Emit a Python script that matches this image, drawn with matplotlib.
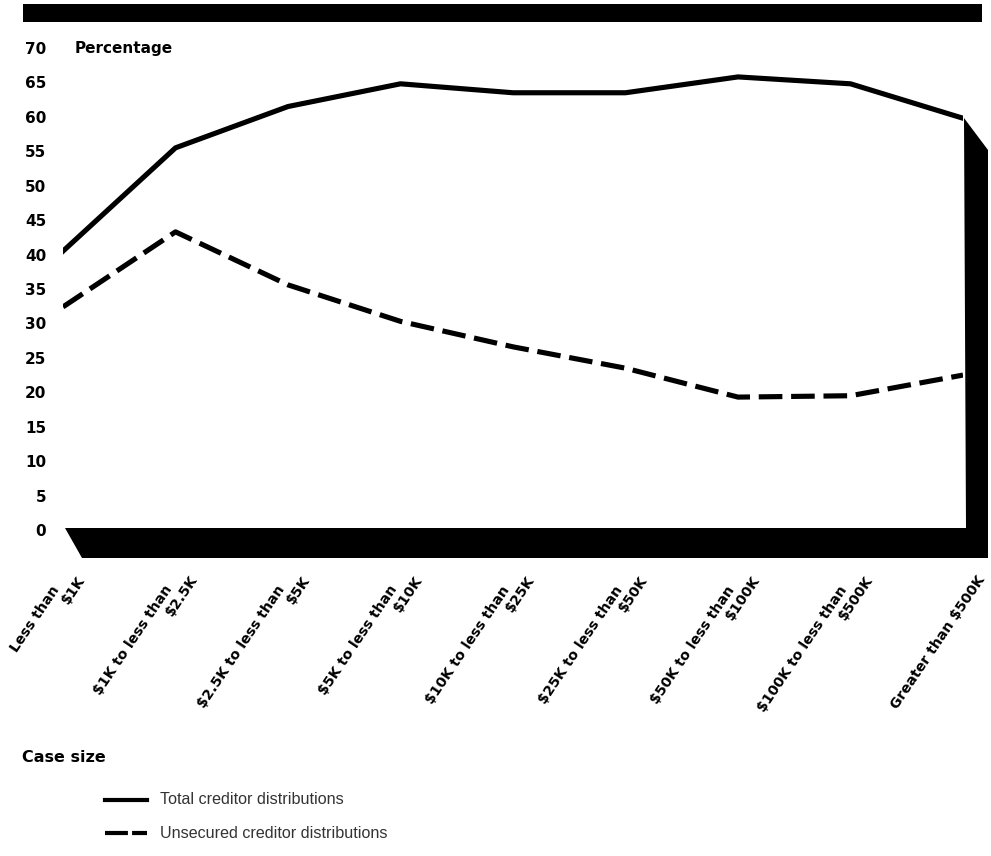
import matplotlib
matplotlib.use("Agg")
import matplotlib.pyplot as plt
from matplotlib.patches import Polygon, Rectangle
from matplotlib.lines import Line2D

plt.rcParams['font.family'] = ['Liberation Sans', 'DejaVu Sans']
BOLD = ['DejaVu Sans']

categories = ["Less than\n$1K", "$1K to less than\n$2.5K", "$2.5K to less than\n$5K",
              "$5K to less than\n$10K", "$10K to less than\n$25K", "$25K to less than\n$50K",
              "$50K to less than\n$100K", "$100K to less than\n$500K", "Greater than $500K"]
total = [40.5, 55.5, 61.5, 64.8, 63.5, 63.5, 65.8, 64.8, 59.8]
unsecured = [32.4, 43.3, 35.6, 30.3, 26.6, 23.5, 19.3, 19.5, 22.5]
yticks = list(range(0, 75, 5))
series_labels = ["Total creditor distributions", "Unsecured creditor distributions"]

W, H = 991, 856
fig = plt.figure(figsize=(W / 100, H / 100), dpi=100)

def fx(px):
    return px / W

def fy(py):
    return 1 - py / H

# axes: x 0..8 -> px 63..963 ; y 0..70 -> px 530..48
ax = fig.add_axes([fx(63), fy(530), (963 - 63) / W, (530 - 48) / H])
ax.set_xlim(0, len(categories) - 1)
ax.set_ylim(0, 70)
for s in ax.spines.values():
    s.set_visible(False)

xs = list(range(len(categories)))
ax.plot(xs, total, color='black', lw=3.7, solid_joinstyle='round', zorder=3)
ax.plot(xs, unsecured, color='black', lw=3.7, dashes=(4.6, 1.7),
        dash_capstyle='butt', zorder=3)

ax.set_yticks(yticks)
ax.set_yticklabels([str(v) for v in yticks], fontweight='bold', fontsize=11,
                   family=BOLD)
ax.tick_params(axis='y', length=0, pad=12)
ax.set_xticks([])

# x category labels: last line anchored at the tick, first line offset back
ROT = 56
for i, lab in enumerate(categories):
    parts = lab.split('\n')
    offsets = [(13.7, -33.8)] if len(parts) == 1 else [(-4.3, -41.0), (13.7, -33.8)]
    for part, off in zip(parts, offsets):
        ax.annotate(part, xy=(i, 0), xycoords=('data', 'axes fraction'),
                    xytext=off, textcoords='offset points',
                    ha='right', va='center', rotation=ROT, rotation_mode='anchor',
                    fontweight='bold', fontsize=10.2, family=BOLD,
                    annotation_clip=False)

# decorations: top bar, floor and right wall
fig.add_artist(Rectangle((fx(23), fy(22)), fx(982) - fx(23), fy(4) - fy(22),
                         transform=fig.transFigure, color='black', lw=0))
floor_pts = [(65, 528), (966, 528), (964, 118), (988, 150), (988, 558), (82, 558)]
fig.add_artist(Polygon([(fx(x), fy(y)) for x, y in floor_pts], closed=True,
                       transform=fig.transFigure, color='black', lw=0))

fig.text(fx(75), fy(48), "Percentage", fontweight='bold', fontsize=11,
         family=BOLD, ha='left', va='center')
fig.text(fx(22), fy(758), "Case size", fontweight='bold', fontsize=11.5,
         family=BOLD, ha='left', va='center')

# legend
fig.add_artist(Line2D([fx(105), fx(147)], [fy(800), fy(800)], color='black', lw=3,
                      transform=fig.transFigure))
fig.add_artist(Line2D([fx(105), fx(147)], [fy(833), fy(833)], color='black', lw=3,
                      dashes=(5.5, 1.0), transform=fig.transFigure))
fig.text(fx(160), fy(800), series_labels[0], fontsize=11.6, color='#333333',
         ha='left', va='center')
fig.text(fx(160), fy(833), series_labels[1], fontsize=11.6, color='#333333',
         ha='left', va='center')

fig.savefig("out.png", dpi=100, facecolor='white')
